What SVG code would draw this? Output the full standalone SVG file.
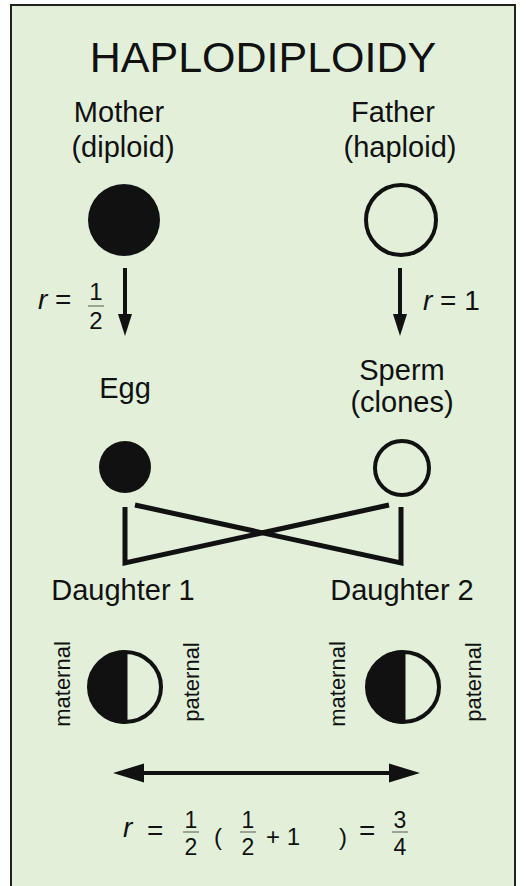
<svg xmlns="http://www.w3.org/2000/svg" width="526" height="886" viewBox="0 0 526 886">
  <style>
    text { font-family: "Liberation Sans", Arial, Helvetica, sans-serif; fill: #111; }
    .lbl { font-size: 29px; text-anchor: middle; }
    .side { font-size: 22px; text-anchor: middle; }
    .num { font-size: 23px; text-anchor: middle; }
    .big { font-size: 24px; }
    .eq { font-size: 28px; }
    .line { stroke: #111; stroke-width: 5; fill: none; stroke-linecap: butt; stroke-linejoin: miter; }
    .shaft { stroke: #111; stroke-width: 4; }
    .head { fill: #111; }
    .open { fill: none; stroke: #111; stroke-width: 4; }
    .solid { fill: #111; }
    .frac { stroke: #555; stroke-width: 1; }
  </style>

  <!-- panel -->
  <rect x="0" y="0" width="526" height="886" fill="#ffffff"/>
  <rect x="11" y="5" width="504" height="900" fill="#e2f0da" stroke="#222" stroke-width="2"/>

  <text x="263" y="72" font-size="43" text-anchor="middle">HAPLODIPLOIDY</text>

  <g id="mother">
    <text class="lbl" x="119" y="122">Mother</text>
    <text class="lbl" x="123" y="157">(diploid)</text>
    <circle class="solid" cx="124" cy="220" r="36"/>
  </g>

  <g id="father">
    <text class="lbl" x="393" y="122">Father</text>
    <text class="lbl" x="400" y="157">(haploid)</text>
    <circle class="open" cx="401" cy="220" r="35"/>
  </g>

  <g id="egg">
    <text class="lbl" x="125" y="398">Egg</text>
    <circle class="solid" cx="125" cy="467" r="26"/>
  </g>

  <g id="sperm">
    <text class="lbl" x="402" y="380">Sperm</text>
    <text class="lbl" x="402" y="412">(clones)</text>
    <circle class="open" cx="402" cy="468" r="27"/>
  </g>

  <g id="daughter1">
    <text class="lbl" x="123" y="600">Daughter 1</text>
    <path class="solid" d="M125 650 A36 37 0 0 0 125 724 Z"/>
    <ellipse class="open" cx="125" cy="687" rx="36" ry="35"/>
    <line x1="126" y1="651" x2="126" y2="723" stroke="#111" stroke-width="3"/>
    <text class="side" transform="translate(70,684) rotate(-90)">maternal</text>
    <text class="side" transform="translate(199,682) rotate(-90)">paternal</text>
  </g>

  <g id="daughter2">
    <text class="lbl" x="402" y="600">Daughter 2</text>
    <path class="solid" d="M403 650 A36 37 0 0 0 403 724 Z"/>
    <ellipse class="open" cx="403" cy="687" rx="36" ry="35"/>
    <line x1="404" y1="651" x2="404" y2="723" stroke="#111" stroke-width="3"/>
    <text class="side" transform="translate(345,684) rotate(-90)">maternal</text>
    <text class="side" transform="translate(481,682) rotate(-90)">paternal</text>
  </g>

  <g id="connectors">
    <!-- mother to egg -->
    <line class="shaft" x1="125" y1="268" x2="125" y2="318"/>
    <path class="head" d="M118 314 L132 314 L125 336 Z"/>
    <!-- father to sperm -->
    <line class="shaft" x1="400" y1="268" x2="400" y2="318"/>
    <path class="head" d="M393 314 L407 314 L400 336 Z"/>
    <!-- gametes crossing to daughters -->
    <polyline class="line" points="125,507 125,563 389,505"/>
    <polyline class="line" points="135,505 401,563 401,507"/>
    <!-- relatedness between sisters -->
    <line class="shaft" x1="140" y1="773" x2="392" y2="773"/>
    <path class="head" d="M113 773 L144 763.5 L144 782.5 Z"/>
    <path class="head" d="M420 773 L389 763.5 L389 782.5 Z"/>
  </g>

  <g id="labels">
    <text class="eq" x="38" y="309"><tspan font-style="italic">r</tspan> =</text>
    <text class="num big" x="96" y="300">1</text>
    <line class="frac" x1="88" y1="306" x2="104" y2="306"/>
    <text class="num big" x="96" y="329">2</text>

    <text class="eq" x="423" y="310"><tspan font-style="italic">r</tspan> = 1</text>
  </g>

  <g id="equation">
    <text class="eq" x="123" y="837" font-style="italic">r</text>
    <text class="eq" x="147" y="840">=</text>
    <text class="num" x="191" y="828">1</text>
    <line class="frac" x1="183" y1="832" x2="199" y2="832"/>
    <text class="num" x="191" y="855">2</text>
    <text x="214" y="845" font-size="24">(</text>
    <text class="num" x="248" y="828">1</text>
    <line class="frac" x1="240" y1="832" x2="256" y2="832"/>
    <text class="num" x="248" y="855">2</text>
    <text x="266" y="845" font-size="24">+ 1</text>
    <text x="339" y="845" font-size="24">)</text>
    <text class="eq" x="359" y="840">=</text>
    <text class="num" x="400" y="828">3</text>
    <line class="frac" x1="392" y1="832" x2="408" y2="832"/>
    <text class="num" x="400" y="855">4</text>
  </g>
</svg>
